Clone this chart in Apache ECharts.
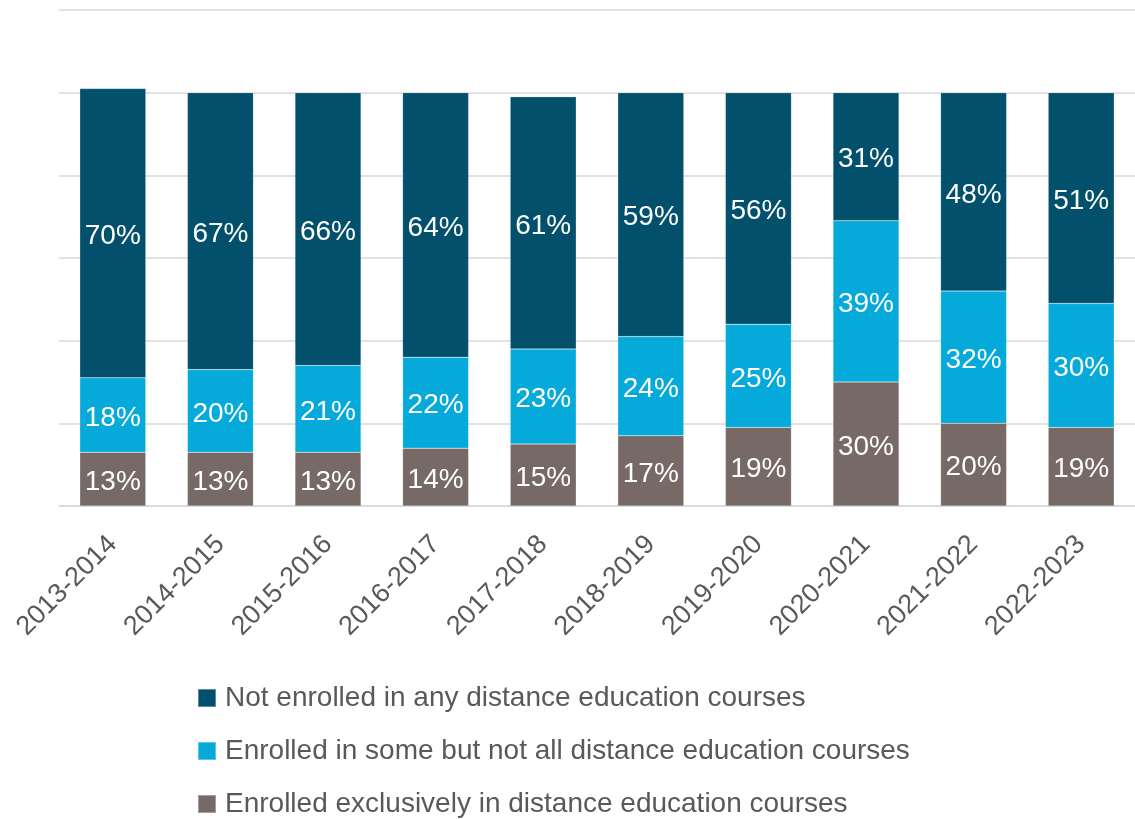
<!DOCTYPE html>
<html>
<head>
<meta charset="utf-8">
<script src="https://cdn.jsdelivr.net/npm/echarts@6/dist/echarts.min.js"></script>
<style>
  html, body { margin: 0; padding: 0; background: #fff; }
  #chart { width: 1135px; height: 819px; }
</style>
</head>
<body>
<div id="chart"></div>
<script>
  const years = ["2013-2014", "2014-2015", "2015-2016", "2016-2017", "2017-2018",
    "2018-2019", "2019-2020", "2020-2021", "2021-2022", "2022-2023"];
  const exclusively = [13, 13, 13, 14, 15, 17, 19, 30, 20, 19];
  const some = [18, 20, 21, 22, 23, 24, 25, 39, 32, 30];
  const none = [70, 67, 66, 64, 61, 59, 56, 31, 48, 51];

  const NAMES = {
    none: "Not enrolled in any distance education courses",
    some: "Enrolled in some but not all distance education courses",
    excl: "Enrolled exclusively in distance education courses",
  };
  const COLORS = { none: "#02506c", some: "#05aadb", excl: "#776965" };
  const FONT = "Liberation Sans, Arial, sans-serif";

  function barSeries(name, data, color) {
    return {
      name,
      type: "bar",
      stack: "total",
      data,
      barWidth: 66,
      itemStyle: { color, borderColor: "rgba(255,255,255,0.35)", borderWidth: 0.5 },
      label: {
        show: true,
        position: "inside",
        color: "#fff",
        fontFamily: FONT,
        fontSize: 28,
        offset: [0, 3],
        formatter: p => p.value + "%",
      },
    };
  }

  // one legend per row so the vertical list never wraps into columns
  function legendRow(name, top) {
    return {
      left: 192,
      top,
      icon: "rect",
      itemWidth: 18,
      itemHeight: 18,
      selectedMode: false,
      textStyle: {
        color: "#595959",
        fontFamily: FONT,
        fontSize: 28,
        padding: [0, 0, 0, 4],
      },
      data: [name],
    };
  }

  const chart = echarts.init(document.getElementById("chart"));
  chart.setOption({
    animation: false,
    grid: { left: 59, top: 10, width: 1080, height: 496 },
    legend: [
      legendRow(NAMES.none, 679),
      legendRow(NAMES.some, 732),
      legendRow(NAMES.excl, 785),
    ],
    xAxis: {
      type: "category",
      data: years,
      axisLine: { lineStyle: { color: "#d9d9d9", width: 1.5 } },
      axisTick: { show: false },
      axisLabel: {
        rotate: 45,
        interval: 0,
        margin: 34,
        color: "#595959",
        fontFamily: FONT,
        fontSize: 27,
      },
    },
    yAxis: {
      type: "value",
      min: 0,
      max: 120,
      interval: 20,
      axisLabel: { show: false },
      axisLine: { show: false },
      axisTick: { show: false },
      splitLine: { lineStyle: { color: "#d9d9d9", width: 1.5 } },
    },
    series: [
      barSeries(NAMES.excl, exclusively, COLORS.excl),
      barSeries(NAMES.some, some, COLORS.some),
      barSeries(NAMES.none, none, COLORS.none),
    ],
  });
</script>
</body>
</html>
